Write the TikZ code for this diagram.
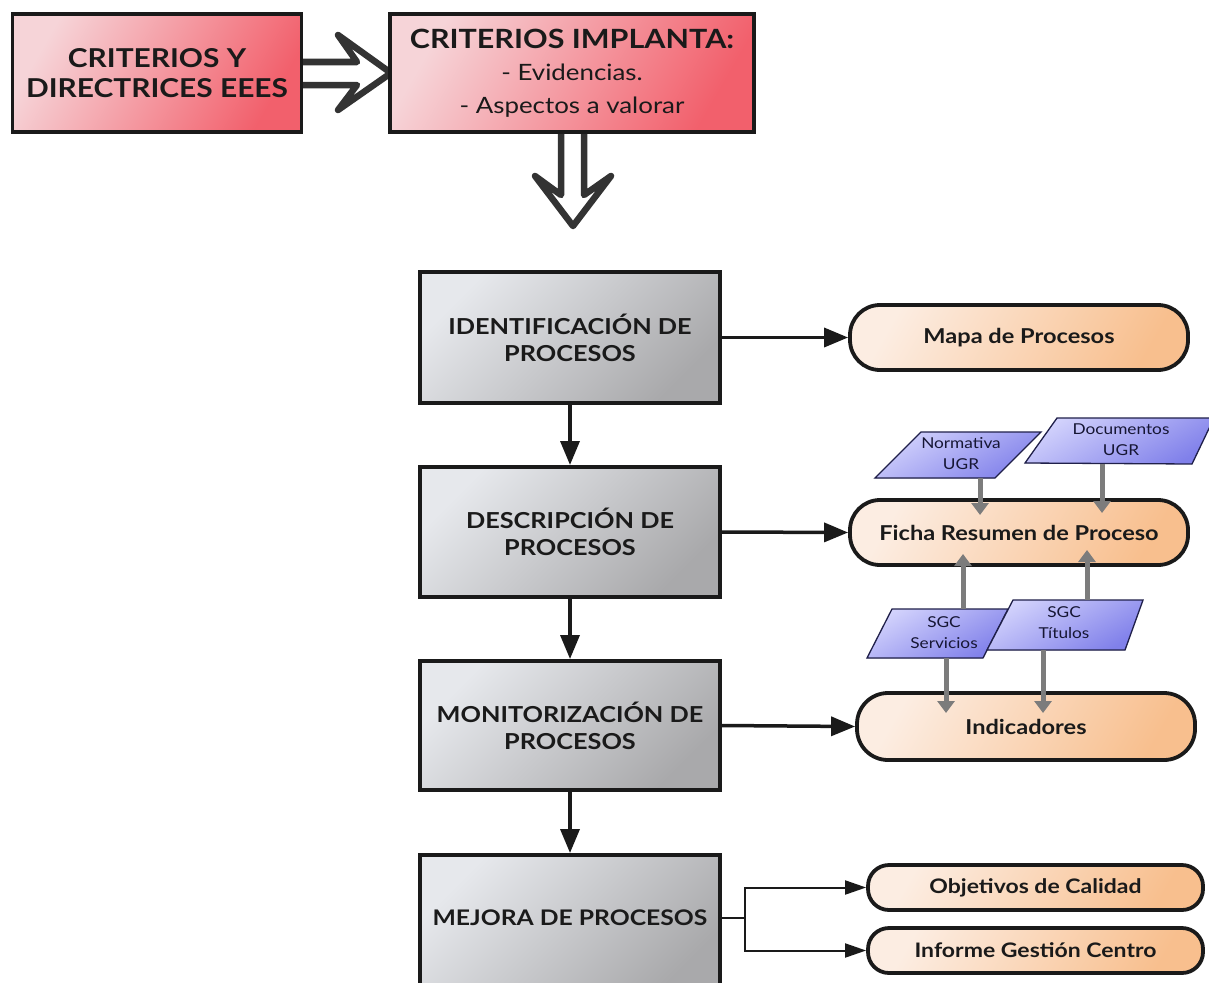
\documentclass[tikz,border=0pt]{standalone}
\usepackage{fontspec}
\setmainfont{Lato}[FakeStretch=1.15]
\usetikzlibrary{arrows.meta}
\definecolor{inkc}{HTML}{1A1A1A}
\definecolor{redL}{HTML}{F6D4D8}
\definecolor{redR}{HTML}{F2606C}
\definecolor{grayL}{HTML}{E6E8EC}
\definecolor{grayR}{HTML}{A9A9AB}
\definecolor{orL}{HTML}{FCEDE2}
\definecolor{orR}{HTML}{F8BF8E}
\definecolor{blL}{HTML}{D2D2FC}
\definecolor{blR}{HTML}{8080EA}
\definecolor{blD}{HTML}{20204A}
\definecolor{garrow}{HTML}{7C7C7C}
\definecolor{hollowc}{HTML}{333333}
\begin{document}
\begin{tikzpicture}[x=1pt,y=-1pt,
  redbox/.style={draw=inkc,line width=3.5pt,top color=redL,bottom color=redR,shading angle=60,
     minimum height=118pt,inner sep=0pt,align=center,text=inkc},
  procbox/.style={draw=inkc,line width=4pt,top color=grayL,bottom color=grayR,shading angle=45,
     minimum width=300pt,inner sep=0pt,align=center,text=inkc,
     font=\bfseries\fontsize{22}{27}\selectfont},
  pill/.style={draw=inkc,line width=3.8pt,top color=orL,bottom color=orR,shading angle=60,
     inner sep=0pt,align=center,text=inkc,font=\bfseries\fontsize{20.5}{24}\selectfont},
  para/.style={draw=blD,line width=1.3pt,top color=blL,bottom color=blR,shading angle=30},
  paratext/.style={align=center,text=blD!70!black,font=\fontsize{15}{21}\selectfont,inner sep=0pt},
  hollow/.style={draw=hollowc,line width=6.5pt,fill=white,line join=round,line cap=round},
  blk/.style={draw=inkc,line width=3.5pt,-{Triangle[length=24pt,width=19pt]}},
  blkthin/.style={draw=inkc,line width=2pt,-{Triangle[length=21pt,width=14pt]}},
  gra/.style={draw=garrow,line width=5pt,-{Triangle[length=12pt,width=17pt]}},
]
\useasboundingbox (0,0) rectangle (1209,982);
\clip (0,0) rectangle (1209,982);
\fill[white] (0,0) rectangle (1209,982);

% hollow arrows (drawn first, boxes cover their open ends)
\filldraw[hollow] (298,62) -- (357,62) -- (338,35) -- (391,73) -- (338,110) -- (357,85) -- (298,85);
\filldraw[hollow] (561,130) -- (561,195) -- (535,176) -- (573,226) -- (611,176) -- (584,195) -- (584,130);

% top boxes
\node[redbox,minimum width=289pt,font=\bfseries\fontsize{26}{30}\selectfont] (crit) at (157,73)
  {CRITERIOS Y\\DIRECTRICES EEES};
\node[redbox,minimum width=364pt,font=\fontsize{22.5}{32.5}\selectfont] (impl) at (572,73)
  {{\bfseries\fontsize{26.5}{32.5}\selectfont CRITERIOS IMPLANTA:}\\
   - Evidencias.\\
   - Aspectos a valorar};

% process boxes
\node[procbox,minimum height=131pt] (ident) at (570,337.5) {IDENTIFICACIÓN DE\\PROCESOS};
\node[procbox,minimum height=130pt] (desc) at (570,532) {DESCRIPCIÓN DE\\PROCESOS};
\node[procbox,minimum height=129pt] (moni) at (570,725.5) {MONITORIZACIÓN DE\\PROCESOS};
\node[procbox,minimum height=140pt] (mejora) at (570,925) {};
\node[text=inkc,font=\bfseries\fontsize{21.5}{27}\selectfont] (mejoratxt) at (570,918) {MEJORA DE PROCESOS};

% pills
\node[pill,minimum width=338pt,minimum height=65pt,rounded corners=30pt] (mapa) at (1019,337.5) {Mapa de Procesos};
\node[pill,minimum width=338pt,minimum height=65pt,rounded corners=30pt] (ficha) at (1019,532.5) {Ficha Resumen de Proceso};
\node[pill,minimum width=338pt,minimum height=67pt,rounded corners=31pt] (indic) at (1026,726.5) {Indicadores};
\node[pill,minimum width=335pt,minimum height=45pt,rounded corners=21pt,font=\bfseries\fontsize{20}{22}\selectfont] (objet) at (1035.5,887.5) {Objetivos de Calidad};
\node[pill,minimum width=335pt,minimum height=45pt,rounded corners=21pt,font=\bfseries\fontsize{20}{22}\selectfont] (infor) at (1035.5,950.5) {Informe Gestión Centro};

% black connectors
\draw[blk] (ident.south) -- (desc.north);
\draw[blk] (desc.south) -- (moni.north);
\draw[blk] (moni.south) -- (mejora.north);
\draw[blk] (ident.east) -- (mapa.west);
\draw[blk] (desc.east) -- (ficha.west);
\draw[blk] (moni.east) -- (indic.west);
\coordinate (br) at (745,918);
\draw[draw=inkc,line width=2pt] (mejora.east |- br) -- (br);
\draw[blkthin] (br) |- (objet.west);
\draw[blkthin] (br) |- (infor.west);

% parallelograms
\filldraw[para] (875,478) -- (921,432) -- (1041,432) -- (995,478) -- cycle;
\node[paratext] (norm) at (961,454) {Normativa\\UGR};
\filldraw[para] (1025,463) -- (1057,418) -- (1214,418) -- (1192,464) -- cycle;
\node[paratext] (docu) at (1121,440) {Documentos\\UGR};
\filldraw[para] (867,658) -- (892,609) -- (1008,609) -- (983,658) -- cycle;
\node[paratext] (serv) at (944,633) {SGC\\Servicios};
\filldraw[para] (987,650) -- (1013,600) -- (1143,600) -- (1125,650) -- cycle;
\node[paratext] (titu) at (1064,623) {SGC\\Títulos};

% gray connectors
\coordinate (nB) at (980,478);  \coordinate (nT) at (980,515);
\coordinate (dB) at (1102,464); \coordinate (dT) at (1102,513);
\coordinate (sU) at (963,609);  \coordinate (sUT) at (963,554);
\coordinate (tU) at (1087,600); \coordinate (tUT) at (1087,550);
\coordinate (sD) at (946,658);  \coordinate (sDT) at (946,713);
\coordinate (tD) at (1043,650); \coordinate (tDT) at (1043,713);
\draw[gra] (nB) -- (nT);
\draw[gra] (dB) -- (dT);
\draw[gra] (sU) -- (sUT);
\draw[gra] (tU) -- (tUT);
\draw[gra] (sD) -- (sDT);
\draw[gra] (tD) -- (tDT);
\end{tikzpicture}
\end{document}
